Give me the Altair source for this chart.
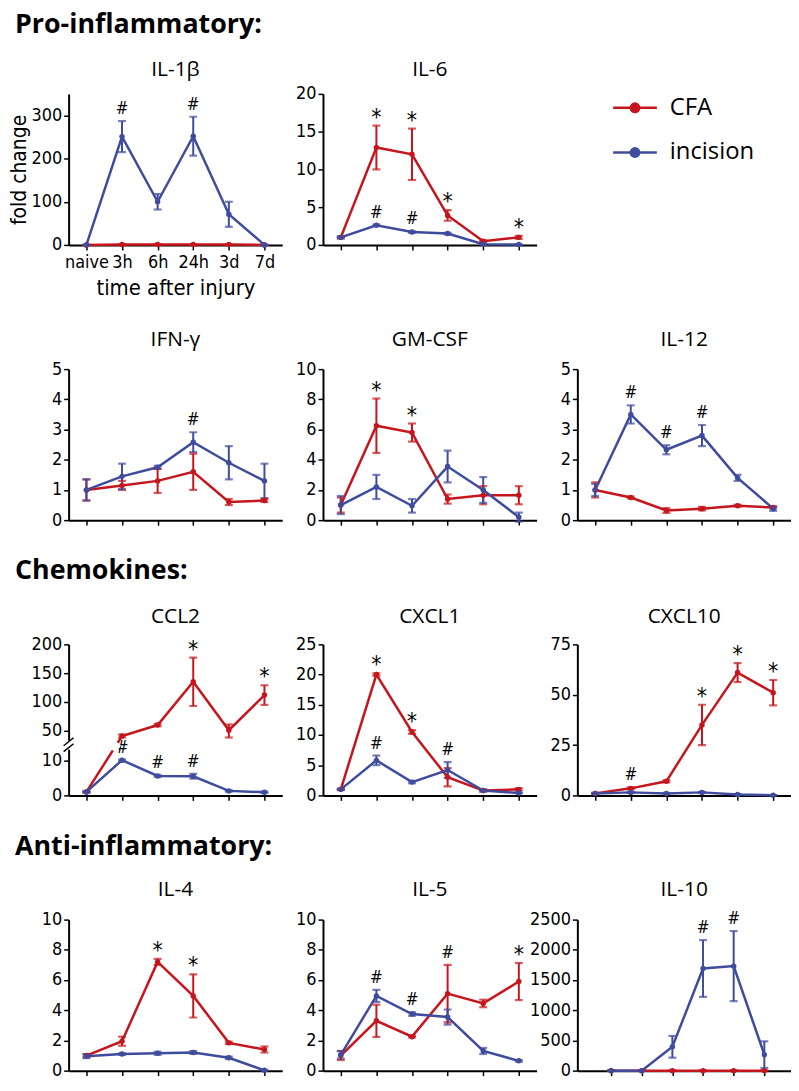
import altair as alt
import pandas as pd

TIMES = ["naive", "3h", "6h", "24h", "3d", "7d"]
SERIES = ["CFA", "incision"]
RED = "#c5161d"
BLUE = "#3f4c9d"

# ---- data: mean and error half-width per time point ----
IL1B_CFA = [0, 1, 1, 1, 1, 0]
IL1B_CFA_ERR = [0, 0, 0, 0, 0, 0]
IL1B_INC = [0, 251, 100, 252, 71, 0]
IL1B_INC_ERR = [0, 36, 18, 45, 29, 0]
IL1B_CFA_SIG = ["", "", "", "", "", ""]
IL1B_INC_SIG = ["", "#", "", "#", "", ""]

IL6_CFA = [1.0, 12.9, 12.0, 3.9, 0.5, 1.0]
IL6_CFA_ERR = [0.1, 2.9, 3.4, 0.7, 0.1, 0.2]
IL6_INC = [1.0, 2.6, 1.7, 1.5, 0.1, 0.05]
IL6_INC_ERR = [0.15, 0.1, 0.1, 0.1, 0.05, 0.02]
IL6_CFA_SIG = ["", "*", "*", "*", "", "*"]
IL6_INC_SIG = ["", "#", "#", "", "", ""]

IFN_CFA = [1.0, 1.15, 1.3, 1.6, 0.6, 0.65]
IFN_CFA_ERR = [0.35, 0.15, 0.4, 0.6, 0.1, 0.05]
IFN_INC = [1.0, 1.45, 1.75, 2.58, 1.9, 1.3]
IFN_INC_ERR = [0.35, 0.42, 0.05, 0.33, 0.55, 0.57]
IFN_CFA_SIG = ["", "", "", "", "", ""]
IFN_INC_SIG = ["", "", "", "#", "", ""]

GM_CFA = [1.0, 6.25, 5.8, 1.4, 1.65, 1.65]
GM_CFA_ERR = [0.5, 1.8, 0.6, 0.3, 0.6, 0.6]
GM_INC = [1.0, 2.2, 0.95, 3.55, 2.0, 0.2]
GM_INC_ERR = [0.6, 0.8, 0.45, 1.05, 0.85, 0.3]
GM_CFA_SIG = ["", "*", "*", "", "", ""]
GM_INC_SIG = ["", "", "", "", "", ""]

IL12_CFA = [1.0, 0.75, 0.32, 0.38, 0.48, 0.42]
IL12_CFA_ERR = [0.25, 0.03, 0.08, 0.06, 0.03, 0.03]
IL12_INC = [1.0, 3.5, 2.33, 2.8, 1.4, 0.38]
IL12_INC_ERR = [0.2, 0.3, 0.15, 0.35, 0.1, 0.07]
IL12_CFA_SIG = ["", "", "", "", "", ""]
IL12_INC_SIG = ["", "#", "#", "#", "", ""]

CCL2_CFA = [1, 43, 60, 135, 51, 112]
CCL2_CFA_ERR = [0, 2, 2, 42, 10, 17]
CCL2_INC = [1, 10.6, 5.6, 5.5, 1.3, 0.9]
CCL2_INC_ERR = [0.3, 0.8, 0.3, 0.7, 0.2, 0.2]
CCL2_CFA_SIG = ["", "", "", "*", "", "*"]
CCL2_INC_SIG = ["", "#", "#", "#", "", ""]

CXCL1_CFA = [1.0, 20.0, 10.5, 3.0, 0.8, 1.0]
CXCL1_CFA_ERR = [0.1, 0.2, 0.3, 1.5, 0.2, 0.2]
CXCL1_INC = [1.0, 5.8, 2.2, 4.2, 0.8, 0.4]
CXCL1_INC_ERR = [0.1, 0.8, 0.2, 1.3, 0.1, 0.05]
CXCL1_CFA_SIG = ["", "*", "*", "", "", ""]
CXCL1_INC_SIG = ["", "#", "", "#", "", ""]

CXCL10_CFA = [1, 3.5, 7, 35, 61, 51]
CXCL10_CFA_ERR = [0.3, 0.5, 0.5, 10, 4.7, 6.3]
CXCL10_INC = [1, 1.5, 1.0, 1.5, 0.5, 0.1]
CXCL10_INC_ERR = [0.2, 0.3, 0.2, 0.3, 0.1, 0.05]
CXCL10_CFA_SIG = ["", "#", "", "*", "*", "*"]
CXCL10_INC_SIG = ["", "", "", "", "", ""]

IL4_CFA = [1.0, 1.95, 7.2, 4.95, 1.84, 1.4]
IL4_CFA_ERR = [0.1, 0.3, 0.2, 1.43, 0.08, 0.2]
IL4_INC = [0.95, 1.1, 1.15, 1.2, 0.85, 0.02]
IL4_INC_ERR = [0.12, 0.05, 0.1, 0.1, 0.08, 0.02]
IL4_CFA_SIG = ["", "", "*", "*", "", ""]
IL4_INC_SIG = ["", "", "", "", "", ""]

IL5_CFA = [1.0, 3.3, 2.25, 5.1, 4.45, 5.9]
IL5_CFA_ERR = [0.3, 1.07, 0.05, 1.9, 0.25, 1.23]
IL5_INC = [1.05, 4.95, 3.75, 3.55, 1.3, 0.65]
IL5_INC_ERR = [0.25, 0.4, 0.12, 0.5, 0.2, 0.05]
IL5_CFA_SIG = ["", "", "", "#", "", "*"]
IL5_INC_SIG = ["", "#", "#", "", "", ""]

IL10_CFA = [0, 0, 0, 0, 0, 0]
IL10_CFA_ERR = [0, 0, 0, 0, 0, 0]
IL10_INC = [0, 0, 395, 1690, 1730, 265]
IL10_INC_ERR = [0, 0, 180, 470, 580, 220]
IL10_CFA_SIG = ["", "", "", "", "", ""]
IL10_INC_SIG = ["", "", "", "#", "#", ""]

COND = "Liberation Sans Narrow, DejaVu Sans Condensed, sans-serif"
TITLE_FONT = "Open Sans, sans-serif"
W = 215
H = 152
XD = [-0.5, 5.5]


def make_df(cfa, cfa_err, inc, inc_err, cfa_sig, inc_sig):
    rows = []
    for s, m, e, sig in [("CFA", cfa, cfa_err, cfa_sig), ("incision", inc, inc_err, inc_sig)]:
        for i in range(len(TIMES)):
            rows.append(dict(series=s, t=i, mean=m[i], lo=m[i] - e[i], hi=m[i] + e[i], sig=sig[i]))
    return pd.DataFrame(rows)


def one_row():
    return pd.DataFrame({"k": [0]})


def panel(df, title, yscale, yticks, xdomain=XD, first=False, section=None, extras=None, title_y=-20):
    label_expr = "[" + ",".join("'%s'" % t for t in TIMES) + "][datum.value]"
    if first:
        xaxis = alt.Axis(values=list(range(len(TIMES))), labelExpr=label_expr, title="time after injury",
                         labelFontSize=18, labelPadding=4, titlePadding=6, titleFontSize=22)
        yaxis = alt.Axis(values=yticks, title="fold change", titleFontSize=21, titleX=-39, format="d")
    else:
        xaxis = alt.Axis(values=list(range(len(TIMES))), labels=False, title=None)
        yaxis = alt.Axis(values=yticks, title=None, format="d")
    color = alt.Color("series:N", scale=alt.Scale(domain=SERIES, range=[RED, BLUE]), legend=None)
    base = alt.Chart(df).encode(x=alt.X("t:Q", scale=alt.Scale(domain=xdomain, nice=False, zero=False), axis=xaxis),
                                color=color)

    def Y(field):
        return alt.Y(field, scale=yscale, axis=yaxis)

    line = base.mark_line(strokeWidth=2.5).encode(y=Y("mean:Q"))
    rule = base.mark_rule(strokeWidth=2).encode(y=Y("lo:Q"), y2="hi:Q")
    cap_lo = base.mark_tick(orient="horizontal", size=8, thickness=2.2).encode(y=Y("lo:Q"))
    cap_hi = base.mark_tick(orient="horizontal", size=8, thickness=2.2).encode(y=Y("hi:Q"))
    pts = base.mark_point(filled=True, size=30, opacity=1).encode(y=Y("mean:Q"))
    star = base.transform_filter(alt.datum.sig == "*").mark_text(
        fontSize=23, font=COND, baseline="bottom", dy=4).encode(
        y=Y("hi:Q"), text="sig:N", color=alt.value("black"))
    hsh = base.transform_filter(alt.datum.sig == "#").mark_text(
        fontSize=17, font=COND, baseline="bottom", dy=-3).encode(
        y=Y("hi:Q"), text="sig:N", color=alt.value("black"))
    layers = [line, rule, cap_lo, cap_hi, pts, star, hsh]
    ttl = alt.Chart(one_row()).mark_text(font=TITLE_FONT, fontSize=21, align="center",
                                         baseline="alphabetic", color="black").encode(
        x=alt.value(W / 2), y=alt.value(title_y), text=alt.value(title))
    layers.append(ttl)
    if section:
        sec = alt.Chart(one_row()).mark_text(font=TITLE_FONT, fontSize=27, fontWeight="bold", align="left",
                                             baseline="alphabetic", color="black").encode(
            x=alt.value(-54), y=alt.value(section[1]), text=alt.value(section[0]))
        layers.append(sec)
    if extras:
        layers.extend(extras)
    return alt.layer(*layers).properties(width=W, height=H)


def lin(domain):
    return alt.Scale(domain=domain, nice=False, zero=False)


p_il1b = panel(make_df(IL1B_CFA, IL1B_CFA_ERR, IL1B_INC, IL1B_INC_ERR, IL1B_CFA_SIG, IL1B_INC_SIG),
               "IL-1β", lin([0, 350]), [0, 100, 200, 300], first=True,
               section=("Pro-inflammatory:", -61), title_y=-18)
p_il6 = panel(make_df(IL6_CFA, IL6_CFA_ERR, IL6_INC, IL6_INC_ERR, IL6_CFA_SIG, IL6_INC_SIG),
              "IL-6", lin([0, 20]), [0, 5, 10, 15, 20], title_y=-18)

legend_df = pd.DataFrame({"series": SERIES})
ly = alt.Y("series:N", scale=alt.Scale(type="point", domain=SERIES, range=[14, 59], padding=0), axis=None)
lcolor = alt.Color("series:N", scale=alt.Scale(domain=SERIES, range=[RED, BLUE]), legend=None)
leg_base = alt.Chart(legend_df).encode(y=ly, color=lcolor)
legend = alt.layer(
    leg_base.mark_rule(strokeWidth=2.5).encode(x=alt.value(36), x2=alt.value(80)),
    leg_base.mark_point(filled=True, size=120, opacity=1).encode(x=alt.value(58)),
    leg_base.mark_text(align="left", baseline="middle", fontSize=24, font=TITLE_FONT).encode(
        x=alt.value(93), text="series:N", color=alt.value("black")),
).properties(width=W, height=H)

p_ifn = panel(make_df(IFN_CFA, IFN_CFA_ERR, IFN_INC, IFN_INC_ERR, IFN_CFA_SIG, IFN_INC_SIG),
              "IFN-γ", lin([0, 5]), [0, 1, 2, 3, 4, 5], title_y=-23)
p_gm = panel(make_df(GM_CFA, GM_CFA_ERR, GM_INC, GM_INC_ERR, GM_CFA_SIG, GM_INC_SIG),
             "GM-CSF", lin([0, 10]), [0, 2, 4, 6, 8, 10], title_y=-23)
p_il12 = panel(make_df(IL12_CFA, IL12_CFA_ERR, IL12_INC, IL12_INC_ERR, IL12_CFA_SIG, IL12_INC_SIG),
               "IL-12", lin([0, 5]), [0, 1, 2, 3, 4, 5], title_y=-23)

# CCL2 with broken axis (piecewise scale)
ccl2_scale = alt.Scale(domain=[0, 10, 50, 200], range=[H, 117, 87, 0], nice=False, zero=False)
ccl2_extras = [
    alt.Chart(one_row()).mark_rule(color="white", strokeWidth=9).encode(
        x=alt.value(43.6), x2=alt.value(50.4), y=alt.value(100.9), y2=alt.value(105.1)),
    alt.Chart(one_row()).mark_rect(color="white").encode(
        x=alt.value(-3), x2=alt.value(3), y=alt.value(97), y2=alt.value(106)),
    alt.Chart(one_row()).mark_rule(color="black", strokeWidth=1.5).encode(
        x=alt.value(-5), x2=alt.value(5), y=alt.value(102), y2=alt.value(94)),
    alt.Chart(one_row()).mark_rule(color="black", strokeWidth=1.5).encode(
        x=alt.value(-5), x2=alt.value(5), y=alt.value(108), y2=alt.value(100)),
]
p_ccl2 = panel(make_df(CCL2_CFA, CCL2_CFA_ERR, CCL2_INC, CCL2_INC_ERR, CCL2_CFA_SIG, CCL2_INC_SIG),
               "CCL2", ccl2_scale, [0, 10, 50, 100, 150, 200], section=("Chemokines:", -66),
               extras=ccl2_extras, title_y=-21)
p_cxcl1 = panel(make_df(CXCL1_CFA, CXCL1_CFA_ERR, CXCL1_INC, CXCL1_INC_ERR, CXCL1_CFA_SIG, CXCL1_INC_SIG),
                "CXCL1", lin([0, 25]), [0, 5, 10, 15, 20, 25], title_y=-21)
p_cxcl10 = panel(make_df(CXCL10_CFA, CXCL10_CFA_ERR, CXCL10_INC, CXCL10_INC_ERR, CXCL10_CFA_SIG, CXCL10_INC_SIG),
                 "CXCL10", lin([0, 75]), [0, 25, 50, 75], title_y=-21)

p_il4 = panel(make_df(IL4_CFA, IL4_CFA_ERR, IL4_INC, IL4_INC_ERR, IL4_CFA_SIG, IL4_INC_SIG),
              "IL-4", lin([0, 10]), [0, 2, 4, 6, 8, 10], section=("Anti-inflammatory:", -65), title_y=-24)
p_il5 = panel(make_df(IL5_CFA, IL5_CFA_ERR, IL5_INC, IL5_INC_ERR, IL5_CFA_SIG, IL5_INC_SIG),
              "IL-5", lin([0, 10]), [0, 2, 4, 6, 8, 10], title_y=-24)
p_il10 = panel(make_df(IL10_CFA, IL10_CFA_ERR, IL10_INC, IL10_INC_ERR, IL10_CFA_SIG, IL10_INC_SIG),
               "IL-10", lin([0, 2500]), [0, 500, 1000, 1500, 2000, 2500], xdomain=[-1.1, 5.87], title_y=-24)

chart = alt.concat(
    p_il1b, p_il6, legend,
    p_ifn, p_gm, p_il12,
    p_ccl2, p_cxcl1, p_cxcl10,
    p_il4, p_il5, p_il10,
    columns=3, spacing={"row": 125, "column": 41}, bounds="flush"
).configure_view(stroke=None).configure_axis(
    domainColor="black", domainWidth=2, tickColor="black", tickWidth=1.5, tickSize=5,
    labelFont=COND, labelFontSize=18, labelColor="black", labelPadding=2, grid=False,
    titleFont=COND, titleFontSize=22, titleFontWeight="normal", titleColor="black"
).properties(padding={"left": 0, "top": 0, "right": 0, "bottom": -1})

chart.save("out.html", embed_options={"renderer": "svg", "actions": False})
